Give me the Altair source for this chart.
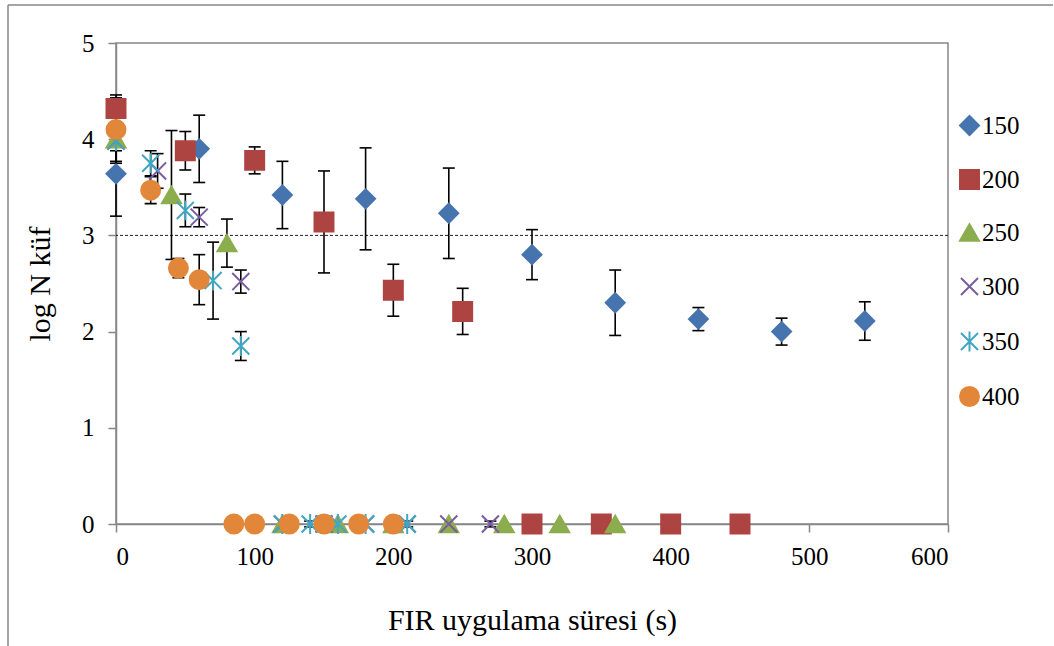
import altair as alt
import pandas as pd

# ---- data ----
series = ["150", "200", "250", "300", "350", "400"]

t150 = [0, 60, 120, 180, 240, 300, 360, 420, 480, 540]
m150 = [3.64, 3.90, 3.42, 3.38, 3.23, 2.80, 2.30, 2.13, 2.00, 2.11]
e150 = [0.44, 0.35, 0.35, 0.53, 0.47, 0.26, 0.34, 0.12, 0.14, 0.20]

t200 = [0, 50, 100, 150, 200, 250, 300, 350, 400, 450]
m200 = [4.32, 3.88, 3.78, 3.14, 2.43, 2.21, 0, 0, 0, 0]
e200 = [0.14, 0.20, 0.14, 0.53, 0.27, 0.24, 0, 0, 0, 0]

t250 = [0, 40, 80, 120, 160, 200, 240, 280, 320, 360]
m250 = [4.00, 3.42, 2.92, 0, 0, 0, 0, 0, 0, 0]
e250 = [0.25, 0.67, 0.25, 0, 0, 0, 0, 0, 0, 0]

t300 = [0, 30, 60, 90, 120, 150, 180, 210, 240, 270]
m300 = [3.98, 3.67, 3.19, 2.52, 0, 0, 0, 0, 0, 0]
e300 = [0.10, 0.18, 0.10, 0.12, 0, 0, 0, 0, 0, 0.03]

t350 = [0, 25, 50, 70, 90, 120, 140, 160, 180, 210]
m350 = [3.98, 3.75, 3.26, 2.53, 1.85, 0, 0, 0, 0, 0]
e350 = [0.06, 0.13, 0.17, 0.40, 0.15, 0, 0.03, 0, 0, 0.03]

t400 = [0, 25, 45, 60, 85, 100, 125, 150, 175, 200]
m400 = [4.10, 3.47, 2.66, 2.54, 0, 0, 0, 0, 0, 0]
e400 = [0.33, 0.14, 0.10, 0.26, 0, 0, 0, 0, 0, 0]

threshold = [3]

x_ticks = [0, 100, 200, 300, 400, 500, 600]
y_ticks = [0, 1, 2, 3, 4, 5]

# ---- styles ----
colors = ["#4674AE", "#AD4441", "#8CAD4E", "#7B5C9E", "#42A6C2", "#E2873A"]
shapes = [
    "diamond",
    "square",
    "triangle-up",
    "M-0.9,-0.9L0.9,0.9M-0.9,0.9L0.9,-0.9",
    "M-0.9,-0.9L0.9,0.9M-0.9,0.9L0.9,-0.9M0,-1.05L0,1.05",
    "circle",
]
FONT = "Liberation Serif"
GRAY = "#878787"

all_t = [t150, t200, t250, t300, t350, t400]
all_m = [m150, m200, m250, m300, m350, m400]
all_e = [e150, e200, e250, e300, e350, e400]

rows = []
for s, ts, ms, es in zip(series, all_t, all_m, all_e):
    for t, m, e in zip(ts, ms, es):
        rows.append({"seri": s, "t": t, "m": m, "e": e, "lo": m - e, "hi": m + e})
df = pd.DataFrame(rows)
err_df = df[df["e"] > 0]

XT = "FIR uygulama süresi (s)"
YT = "log N küf"
xs = alt.Scale(domain=[0, 600], nice=False, zero=False)
ys = alt.Scale(domain=[0, 5], nice=False, zero=False)
xax = alt.Axis(values=x_ticks, title=XT, format="d", labelFont=FONT, titleFont=FONT)
yax = alt.Axis(values=y_ticks, title=YT, format="d", labelFont=FONT, titleFont=FONT)


def X(f):
    return alt.X(f, scale=xs, axis=xax, title=XT)


def Y(f):
    return alt.Y(f, scale=ys, axis=yax, title=YT)


dash = alt.Chart(pd.DataFrame({"ref": threshold})).mark_rule(
    color="#222222", strokeDash=[3, 2], strokeWidth=1
).encode(y=Y("ref:Q"))

bars = alt.Chart(err_df).mark_rule(color="black", strokeWidth=1.6).encode(
    x=X("t:Q"), y=Y("lo:Q"), y2="hi:Q"
)
cap_lo = alt.Chart(err_df).mark_tick(
    color="black", orient="horizontal", size=12, thickness=1.6, opacity=1
).encode(x=X("t:Q"), y=Y("lo:Q"))
cap_hi = alt.Chart(err_df).mark_tick(
    color="black", orient="horizontal", size=12, thickness=1.6, opacity=1
).encode(x=X("t:Q"), y=Y("hi:Q"))

points = alt.Chart(df).mark_point(
    filled=True, size=360, strokeWidth=2, opacity=1
).encode(
    x=X("t:Q"),
    y=Y("m:Q"),
    fill=alt.Fill("seri:N", scale=alt.Scale(domain=series, range=colors), title=None),
    stroke=alt.Stroke("seri:N", scale=alt.Scale(domain=series, range=colors), title=None),
    shape=alt.Shape("seri:N", scale=alt.Scale(domain=series, range=shapes), title=None),
)

frame_left = alt.Chart(pd.DataFrame({"k": [0]})).mark_rule(
    color=GRAY, strokeWidth=1.5
).encode(x=alt.value(-108), y=alt.value(-38), y2=alt.value(603))
frame_top = alt.Chart(pd.DataFrame({"k": [0]})).mark_rule(
    color=GRAY, strokeWidth=1.5
).encode(x=alt.value(-108), x2=alt.value(937), y=alt.value(-38))

chart = alt.layer(frame_left, frame_top, dash, bars, cap_lo, cap_hi, points).properties(
    width=832,
    height=481,
    padding={"left": 7, "top": 4, "right": 0, "bottom": 0},
    background="white",
).configure(
    font=FONT
).configure_view(
    stroke=GRAY, strokeWidth=1.5
).configure_axis(
    grid=False,
    domainColor=GRAY,
    domainWidth=1.5,
    tickColor=GRAY,
    tickWidth=1.5,
    tickSize=8,
    labelFont=FONT,
    labelFontSize=25,
    labelColor="black",
    titleFont=FONT,
    titleFontSize=30,
    titleFontWeight="normal",
    titleColor="black",
).configure_axisX(
    labelPadding=12, titlePadding=36, labelFont=FONT
).configure_axisY(
    labelPadding=14, titlePadding=26, labelFont=FONT
).configure_legend(
    orient="none",
    legendX=841,
    legendY=70,
    symbolSize=360,
    symbolStrokeWidth=2,
    labelFont=FONT,
    labelFontSize=25,
    labelColor="black",
    rowPadding=27,
    labelOffset=0,
    padding=0,
)

chart.save("out.html", embed_options={"renderer": "svg", "actions": False})
